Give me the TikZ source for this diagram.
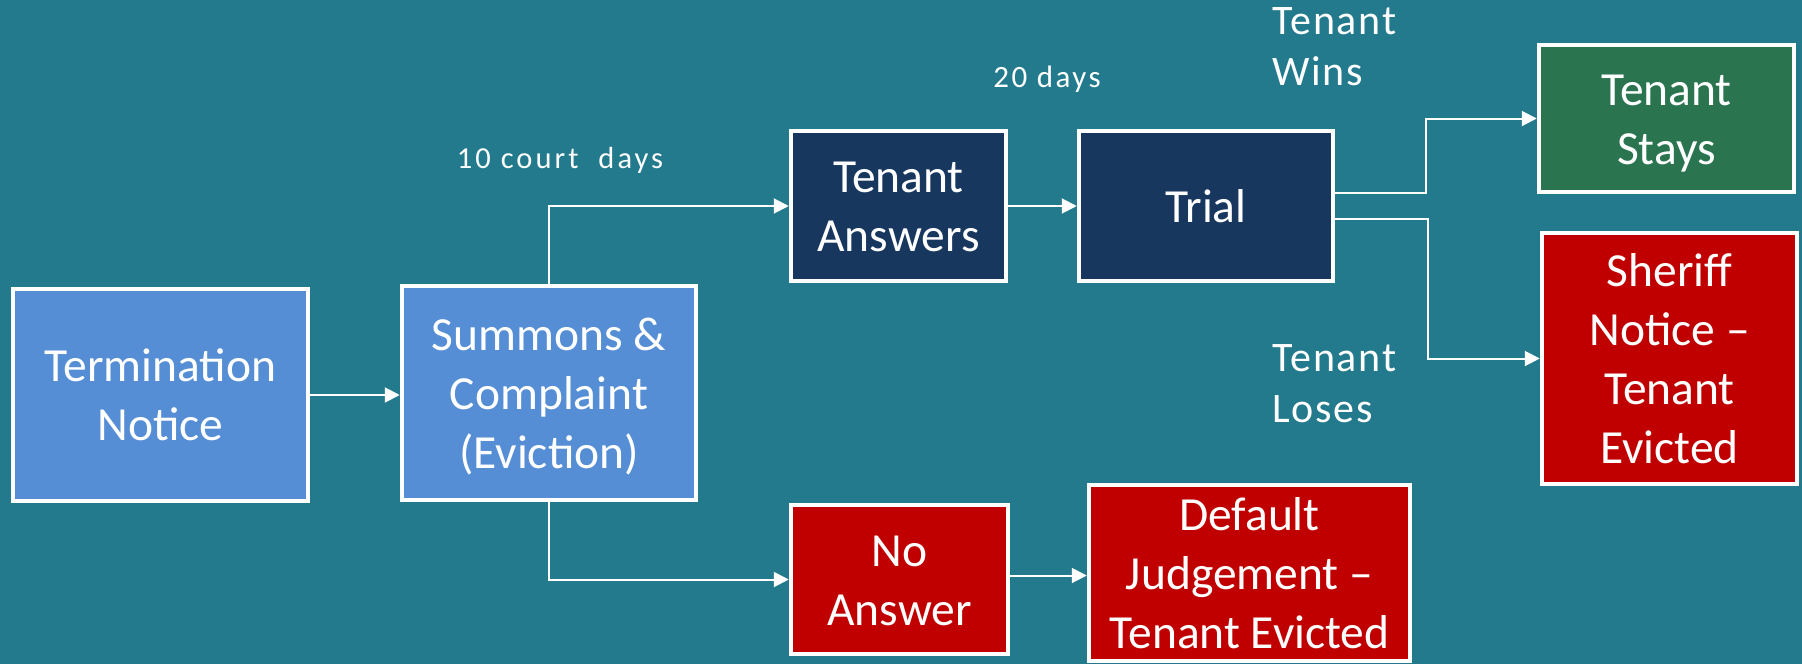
\documentclass[tikz,border=0pt]{standalone}
\usepackage{fontspec}
\setmainfont{Carlito}
\newfontfamily\lblfont[LetterSpace=8]{Carlito}
\newfontfamily\lbltfont[LetterSpace=10]{Carlito}
\newfontfamily\winfont[LetterSpace=4]{Carlito}
\usetikzlibrary{arrows.meta,calc}
\definecolor{bgteal}{HTML}{237A8C}
\definecolor{lblue}{HTML}{558ED5}
\definecolor{navy}{HTML}{17375E}
\definecolor{dgreen}{HTML}{2A7550}
\definecolor{dred}{HTML}{C00000}
\newcommand\bxs{\rule[-0.22em]{0pt}{1.12em}}
\tikzset{
  box/.style={draw=white, line width=4.5pt, text=white, align=center, inner sep=0pt,
    font=\fontsize{47.5}{59}\selectfont},
  conn/.style={draw=white, line width=2pt, -{Triangle[length=15pt,width=15pt]}},
  lbl/.style={text=white, inner sep=0pt, align=left}
}
\begin{document}
\begin{tikzpicture}[x=1pt,y=-1pt]
\useasboundingbox (0,0) rectangle (1802,664);
\fill[bgteal] (0,0) rectangle (1802,664);

\node[box, fill=lblue, minimum width=295pt, minimum height=212pt] (term) at (160.5,395) {\bxs Termination\\\bxs Notice};
\node[box, fill=lblue, minimum width=294pt, minimum height=214pt] (summ) at (549,393) {\bxs Summons \&\\\bxs Complaint\\\bxs (Eviction)};
\node[box, fill=navy, minimum width=215pt, minimum height=150pt] (ans) at (898.5,206) {\bxs Tenant\\\bxs Answers};
\node[box, fill=navy, minimum width=254pt, minimum height=150pt] (trial) at (1206,206) {\bxs Trial};
\node[box, fill=dgreen, minimum width=255pt, minimum height=147pt] (stays) at (1666.5,118.5) {\bxs Tenant\\\bxs Stays};
\node[box, fill=dred, minimum width=255pt, minimum height=251pt] (sher) at (1669.5,358.5) {\bxs Sheriff\\\bxs Notice --\\\bxs Tenant\\\bxs Evicted};
\node[box, fill=dred, minimum width=217pt, minimum height=149pt] (noans) at (899.5,579.5) {\bxs No\\\bxs Answer};
\node[box, fill=dred, minimum width=321pt, minimum height=176pt] (def) at (1249.5,573) {\bxs Default\\\bxs Judgement --\\\bxs Tenant Evicted};

\draw[conn] (term.east) -- (term.east -| summ.west);
\draw[conn] (summ.north) |- (ans.west);
\draw[conn] (summ.south) |- (noans.west);
\draw[conn] (ans.east) -- (ans.east -| trial.west);
\draw[conn] ($(trial.east)+(0,-13)$) -- ++(91,0) |- (stays.west);
\draw[conn] ($(trial.east)+(0,13)$) -- ++(93,0) |- (sher.west);
\path ($(noans.east)+(0,-4)$) coordinate (n1);
\draw[conn] (n1) -- (n1 -| def.west);

% labels
\node[lbl, anchor=base, font=\fontsize{30.5}{36}\lbltfont] (l10) at (560,168) {10 court\ \ days};
\node[lbl, anchor=base, font=\fontsize{31}{37}\lblfont] (l20) at (1047,87) {20 days};
\node[lbl, anchor=north west, font=\fontsize{42}{51.5}\winfont] (lwin) at (1272,7) {Tenant\\Wins};
\node[lbl, anchor=north west, font=\fontsize{42}{51.5}\winfont] (llose) at (1272,344) {Tenant\\Loses};
\end{tikzpicture}
\end{document}
